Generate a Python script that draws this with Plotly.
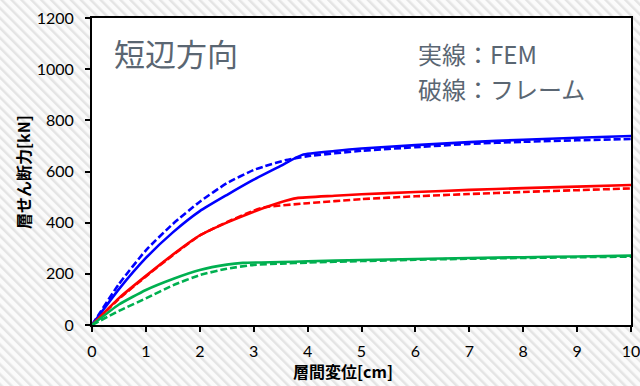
import base64
import plotly.graph_objects as go

# Story drift [cm] vs. story shear [kN], short-side direction
# Solid lines: FEM, dashed lines: frame model
x_fem_blue = [0, 0.5, 1, 1.5, 2, 2.5, 3, 3.5, 3.9, 4.5, 5, 6, 7, 8, 9, 10]
y_fem_blue = [0, 140, 262, 362, 445, 508, 568, 622, 665, 680, 690, 703, 715, 724, 732, 739]
x_frm_blue = [0, 0.5, 1, 1.5, 2, 2.5, 3, 3.2, 3.6, 4, 5, 6, 7, 8, 9, 10]
y_frm_blue = [0, 160, 292, 395, 482, 554, 606, 620, 645, 660, 681, 695, 708, 716, 722, 727]

x_fem_red = [0, 0.5, 1, 1.5, 2, 2.5, 3, 3.5, 3.8, 4.5, 5, 6, 7, 8, 9, 10]
y_fem_red = [0, 105, 192, 275, 350, 400, 443, 480, 496, 505, 511, 520, 528, 535, 541, 547]
x_frm_red = [0, 0.5, 1, 1.5, 2, 2.5, 3, 3.2, 4, 5, 6, 7, 8, 9, 10]
y_frm_red = [0, 102, 190, 273, 350, 402, 447, 460, 476, 492, 503, 512, 520, 527, 534]

x_fem_green = [0, 0.5, 1, 1.5, 2, 2.5, 2.8, 3.5, 4, 5, 6, 7, 8, 9, 10]
y_fem_green = [0, 80, 137, 180, 215, 236, 243, 246, 249, 254, 258, 262, 265, 268, 271]
x_frm_green = [0, 0.5, 1, 1.5, 2, 2.5, 3, 3.5, 4, 5, 6, 7, 8, 9, 10]
y_frm_green = [0, 55, 104, 155, 195, 220, 235, 240, 244, 250, 255, 259, 262, 265, 267]

x_ticks = list(range(0, 11))
y_ticks = list(range(0, 1201, 200))

BLUE, RED, GREEN = "#0000FF", "#FF0000", "#00B050"
DASH = "7px,3px"

series = [
    (x_fem_blue, y_fem_blue, BLUE, "solid"),
    (x_frm_blue, y_frm_blue, BLUE, DASH),
    (x_fem_red, y_fem_red, RED, "solid"),
    (x_frm_red, y_frm_red, RED, DASH),
    (x_fem_green, y_fem_green, GREEN, "solid"),
    (x_frm_green, y_frm_green, GREEN, DASH),
]

fig = go.Figure()
for xs, ys, color, dash in series:
    fig.add_trace(go.Scatter(
        x=xs, y=ys, mode="lines",
        line=dict(color=color, width=2.6, dash=dash, shape="spline", smoothing=0.5),
        showlegend=False, hoverinfo="skip",
    ))

W, H = 640, 386
L, R, T, B = 92, 9, 18, 61
pw, ph = W - L - R, H - T - B

# Hatched page background with a white plotting panel
svg = f'''<svg xmlns="http://www.w3.org/2000/svg" width="{W}" height="{H}">
<defs><pattern id="h" width="7" height="7" patternUnits="userSpaceOnUse" patternTransform="rotate(-45)">
<rect width="7" height="7" fill="#fbfbfb"/><rect width="2.5" height="7" fill="#e4e4e4"/></pattern></defs>
<rect width="{W}" height="{H}" fill="url(#h)"/>
<rect x="{L}" y="{T}" width="{pw}" height="{ph}" fill="#ffffff"/>
</svg>'''
uri = "data:image/svg+xml;base64," + base64.b64encode(svg.encode()).decode()

fig.add_layout_image(dict(
    source=uri, xref="paper", yref="paper",
    x=-L / pw, y=1 + T / ph, sizex=W / pw, sizey=H / ph,
    xanchor="left", yanchor="top", sizing="stretch", layer="below",
))

tick_font = dict(family="Lato, 'Open Sans', sans-serif", size=16, color="#000000")
jp = "'Noto Sans CJK JP', sans-serif"
note_color = "#5a6672"


def px_x(px):
    return (px - L) / pw


def px_y(py):
    return 1 - (py - T) / ph


def note(text, x, y, size, anchor="left"):
    return dict(text=text, xref="paper", yref="paper", x=px_x(x), y=px_y(y),
                xanchor=anchor, yanchor="middle", showarrow=False,
                font=dict(family=jp, size=size, color=note_color))


fig.update_layout(
    width=W, height=H,
    margin=dict(l=L, r=R, t=T, b=B, autoexpand=False),
    paper_bgcolor="#ffffff", plot_bgcolor="#ffffff",
    xaxis=dict(
        range=[0, 10], tickvals=x_ticks, ticks="outside", ticklen=5, tickwidth=1.5,
        tickcolor="#000", showline=True, linecolor="#000", linewidth=2, mirror=True,
        showgrid=False, zeroline=False, tickfont=tick_font, automargin=False,
        ticklabelstandoff=6, ticklabeloverflow="allow",
    ),
    yaxis=dict(
        range=[0, 1200], tickvals=y_ticks, ticks="outside", ticklen=5, tickwidth=1.5,
        tickcolor="#000", showline=True, linecolor="#000", linewidth=2, mirror=True,
        showgrid=False, zeroline=False, tickfont=tick_font, automargin=False,
        ticklabelstandoff=8, ticklabeloverflow="allow",
    ),
    annotations=[
        dict(text="<b>層間変位[cm]</b>", xref="paper", yref="paper", x=px_x(343), y=px_y(371),
             xanchor="center", yanchor="middle", showarrow=False,
             font=dict(family=jp, size=16, color="#000")),
        dict(text="<b>層せん断力[kN]</b>", xref="paper", yref="paper", x=px_x(23), y=px_y(172),
             xanchor="center", yanchor="middle", showarrow=False, textangle=-90,
             font=dict(family=jp, size=16, color="#000")),
        note("短辺方向", 112, 52, 31),
        note("実線：FEM", 416, 53, 24),
        note("破線：フレーム", 416, 88.5, 24),
    ],
)

fig.write_html("out.html")
